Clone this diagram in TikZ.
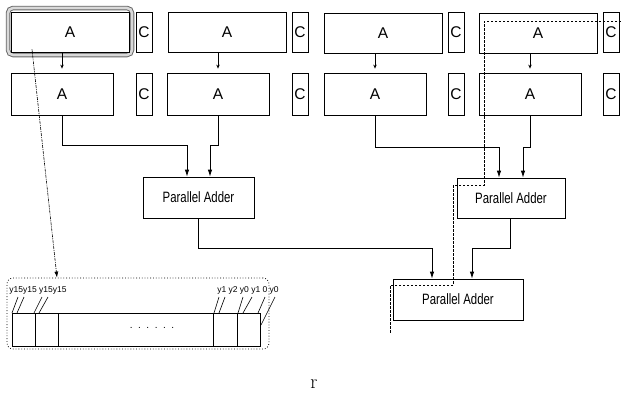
\documentclass[tikz,border=0pt]{standalone}
\usepackage{fontspec}
\setsansfont{Liberation Sans}
\usepackage{tikz}
\usetikzlibrary{arrows.meta, positioning, calc}
\tikzset{
  abox/.style={rectangle, draw, line width=0.8pt, minimum width=118pt,
    minimum height=40pt, inner sep=0pt, font=\sffamily\fontsize{15.5}{17}\selectfont},
  bbox/.style={abox, minimum width=102pt, minimum height=42pt},
  cbox/.style={rectangle, draw, line width=0.8pt, minimum width=16pt,
    minimum height=40pt, inner sep=0pt, font=\sffamily\fontsize{15.5}{17}\selectfont},
  addbox/.style={rectangle, draw, line width=0.8pt, minimum height=41pt,
    inner sep=0pt, font=\sffamily\fontsize{15}{17}\selectfont},
  regbox/.style={rectangle, draw, dotted, line width=0.8pt, rounded corners=6pt,
    minimum width=262pt, minimum height=71pt},
  lbl/.style={inner sep=0pt, font=\sffamily\fontsize{8.5}{9}\selectfont},
  step arrow/.style={-{Stealth[length=4pt,width=3.5pt]}, line width=0.7pt, shorten >=4pt},
  feed/.style={-{Latex[length=7pt,width=4.5pt]}, line width=0.8pt},
  crit/.style={line width=0.9pt, dash pattern=on 2.5pt off 1.5pt},
  tick/.style={line width=0.6pt}
}
\newcommand{\padder}{\scalebox{0.76}[1]{Parallel Adder}}

\begin{document}
\begin{tikzpicture}[x=1pt, y=-1pt, >=Stealth]
  \useasboundingbox (0,0) rectangle (621,405);

  % highlighted first block
  \draw[line width=4.5pt, black!60, rounded corners=5pt] (8,8) rectangle (132,55);
  \draw[line width=2.6pt, gray!30, rounded corners=5pt] (8,8) rectangle (132,55);

  % first row: A blocks and C blocks
  \node[abox, fill=white] (A1t) at (70,32) {A};
  \node[abox] (A2t) at (227,32) {A};
  \node[abox] (A3t) at (383,33) {A};
  \node[abox] (A4t) at (538,33) {A};
  \foreach \i/\x in {1/144,2/300,3/456,4/611}
    \node[cbox] (C\i t) at (\x,32) {C};

  % second row
  \node[bbox] (A1b) at (62,94) {A};
  \node[bbox] (A2b) at (218,94) {A};
  \node[bbox] (A3b) at (375,94) {A};
  \node[bbox] (A4b) at (530,94) {A};
  \foreach \i/\x in {1/144,2/300,3/456,4/611}
    \node[cbox, minimum height=42pt] (C\i b) at (\x,94) {C};

  % short arrows between rows
  \foreach \i in {1,2,3,4}
    \draw[step arrow] (A\i b.north |- A\i t.south) -- (A\i b.north);

  % adders
  \node[addbox, minimum width=111pt] (PA1) at (198.5,197.5) {\padder};
  \node[addbox, minimum width=108pt, minimum height=40pt] (PA2) at (511,198) {\padder};
  \node[addbox, minimum width=130pt] (PA3) at (458,299.5) {\padder};

  % adder inputs
  \draw[feed] (A1b.south) -- ++(0,30) -| ([xshift=-11.5]PA1.north);
  \draw[feed] (A2b.south) -- ++(0,30) -| ([xshift=11.5]PA1.north);
  \draw[feed] (A3b.south) -- ++(0,32) -| ([xshift=-12]PA2.north);
  \draw[feed] (A4b.south) -- ++(0,32) -| ([xshift=12]PA2.north);
  \draw[feed] (PA1.south) -- ++(0,30) -| ([xshift=-26]PA3.north);
  \draw[feed] ([xshift=-1]PA2.south) -- ++(0,30) -| ([xshift=14]PA3.north);

  % critical path
  \draw[crit] (621,21) -- (484,21) -- (484,185) -- (453,185) -- (453,285)
    -- (390,285) -- (390,333);

  % register detail
  \node[regbox] (reg) at (138,313.5) {};
  \draw[-{Latex[length=6pt,width=4pt]}, line width=0.6pt, dash pattern=on 3pt off 1pt on 1pt off 1pt]
    ([xshift=-38,yshift=3]A1t.south) -- ([xshift=-81]reg.north);
  \draw[line width=0.8pt] (12,313) rectangle (260,346);
  \foreach \x in {35,58,213,237}
    \draw[line width=0.8pt] (\x,313) -- (\x,346);
  \node[lbl] (ylo) at (38,290) {y15y15 y15y15};
  \node[lbl] (yhi) at (248,290) {y1 y2 y0 y1 0 y0};
  \node[lbl, font=\sffamily\fontsize{10}{10}\selectfont] (dots) at (152,328) {.\ \ .\ \ .\ \ .\ \ .\ \ .};
  \draw[tick] (12,313) -- (18,297);
  \draw[tick] (17,313) -- (24,297);
  \draw[tick] (34,313) -- (42,297);
  \draw[tick] (39,313) -- (48,297);
  \draw[tick] (214,313) -- (219,297);
  \draw[tick] (219,313) -- (225,297);
  \draw[tick] (238,313) -- (243,297);
  \draw[tick] (243,313) -- (252,297);
  \draw[tick] (258,313) -- (265,297);
  \draw[tick] (261,325) -- (275,297);

  % caption
  \node[font=\rmfamily\fontsize{20}{22}\selectfont] (cap) at (314,384) {r};
\end{tikzpicture}
\end{document}
